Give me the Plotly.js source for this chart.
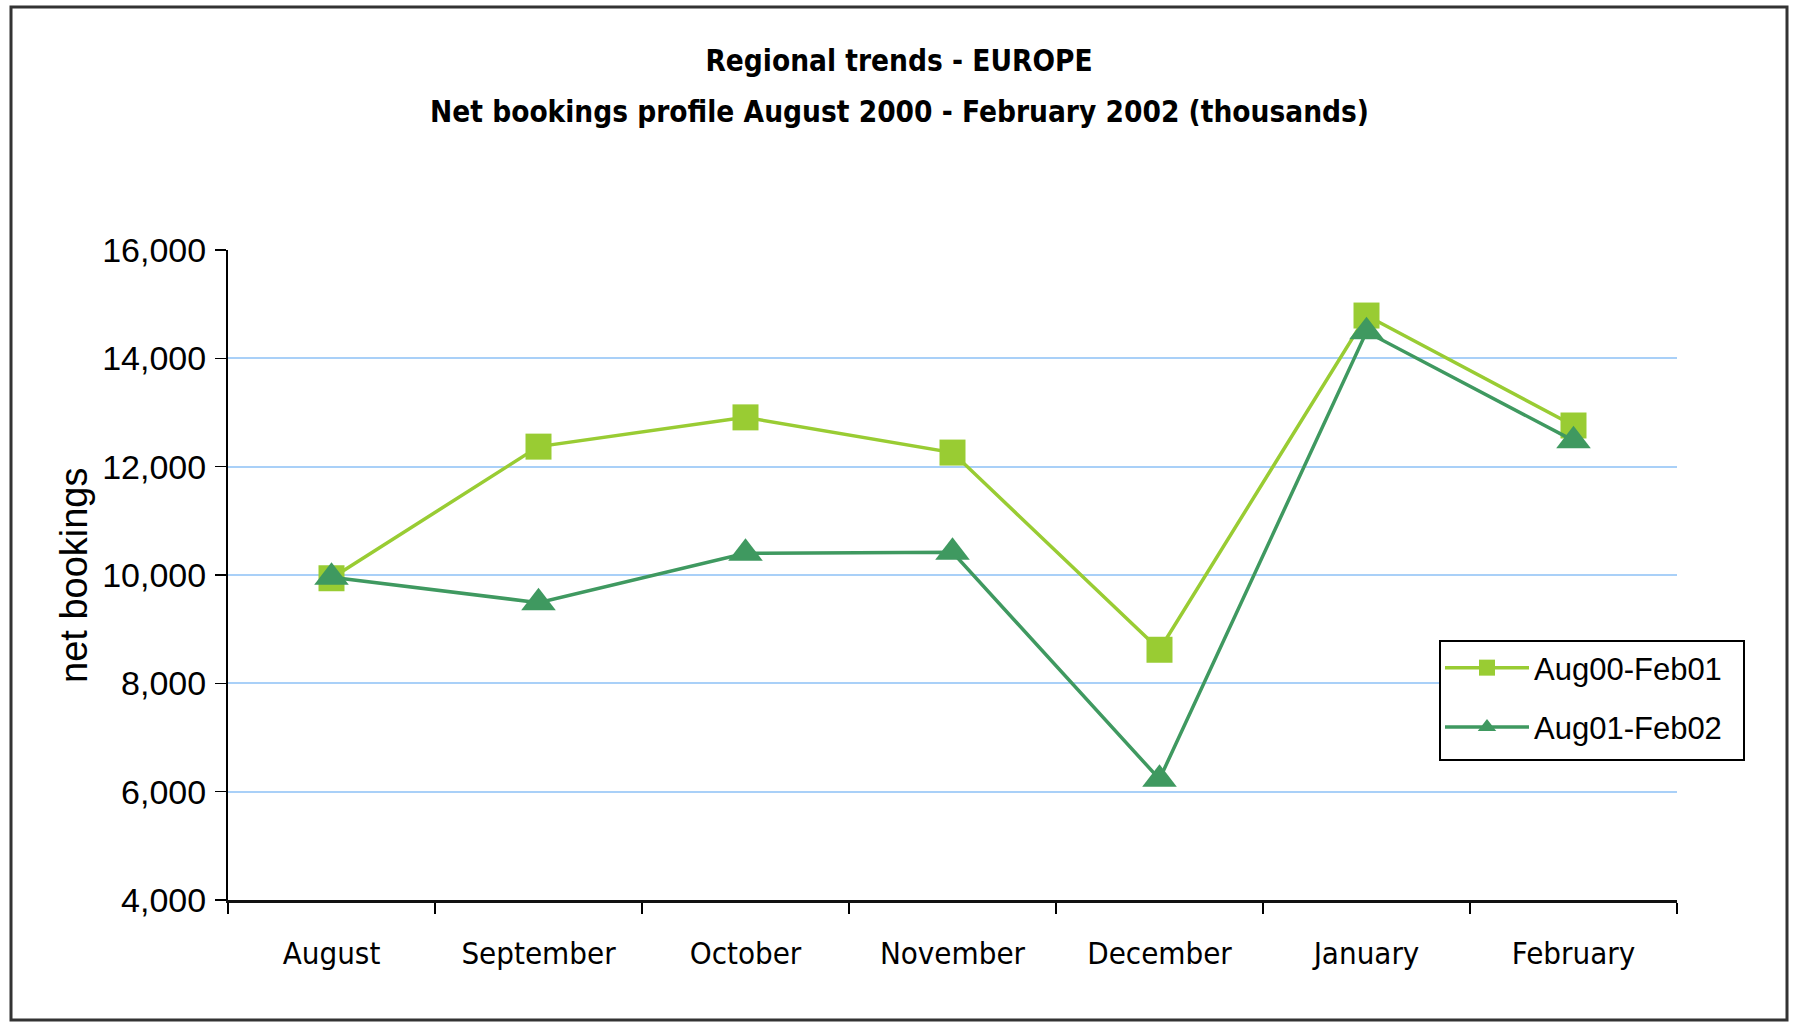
<!DOCTYPE html>
<html>
<head>
<meta charset="utf-8">
<script src="https://cdn.plot.ly/plotly-3.0.1.min.js"></script>
<style>
  html, body { margin: 0; padding: 0; background: #ffffff; }
  #chart { width: 1795px; height: 1022px; }
</style>
</head>
<body>
<div id="chart"></div>
<script>
// ---- data ----
var months = ['August', 'September', 'October', 'November', 'December', 'January', 'February'];
var seriesNames = ['Aug00-Feb01', 'Aug01-Feb02'];
var aug00Feb01 = [9940, 12370, 12910, 12260, 8620, 14790, 12760];
var aug01Feb02 = [9960, 9490, 10400, 10420, 6230, 14490, 12480];
var yTickVals = [4000, 6000, 8000, 10000, 12000, 14000, 16000];
var titleLine1 = 'Regional trends - EUROPE';
var titleLine2 = 'Net bookings profile August 2000 - February 2002 (thousands)';
var yAxisTitle = 'net bookings';

// ---- styling ----
var narrow = '"Liberation Sans Narrow", "Arial Narrow", "DejaVu Sans Condensed", sans-serif';
var sans = '"Liberation Sans", Arial, sans-serif';
var lightGreen = '#99CC33';
var darkGreen = '#3F9960';

var boundaries = months.map(function (_, i) { return i - 0.5; }).concat([months.length - 0.5]);

var traces = [
  {
    type: 'scatter', mode: 'lines+markers',
    x: months, y: aug00Feb01, name: seriesNames[0],
    line: { color: lightGreen, width: 3.5 },
    marker: { symbol: 'square', size: 26, color: lightGreen, line: { width: 0 } },
    legendgroup: 'a'
  },
  {
    type: 'scatter', mode: 'lines+markers',
    x: months, y: aug01Feb02, name: seriesNames[1],
    line: { color: darkGreen, width: 3.5 },
    marker: { symbol: 'triangle-up', size: 30, color: darkGreen, line: { width: 0 } },
    legendgroup: 'b'
  }
];

var W = 1795, H = 1022;
var L = 228, R = 118, T = 250, B = 122;
var pw = W - L - R, ph = H - T - B;
function px2x(p) { return (p - L) / pw; }
function py2y(p) { return (H - B - p) / ph; }

var layout = {
  width: W, height: H,
  margin: { l: L, r: R, t: T, b: B, pad: 0, autoexpand: false },
  paper_bgcolor: '#ffffff', plot_bgcolor: '#ffffff',
  showlegend: true,
  title: {
    text: titleLine1,
    font: { family: narrow, size: 29.5, color: '#000000', weight: 'bold' },
    x: 899 / W, xref: 'container', xanchor: 'center',
    y: 1 - 61 / H, yref: 'container', yanchor: 'middle'
  },
  xaxis: {
    type: 'category', categoryorder: 'array', categoryarray: months,
    range: [-0.5, months.length - 0.5],
    tickson: 'boundaries', ticks: 'outside', ticklen: 11, tickwidth: 1.5, tickcolor: '#000000',
    showline: true, linecolor: '#111111', linewidth: 3,
    showgrid: false, zeroline: false, tickangle: 0, automargin: false,
    ticklabelstandoff: 24,
    tickfont: { family: narrow, size: 31, color: '#000000' }
  },
  yaxis: {
    range: [4000, 16000], tickmode: 'array', tickvals: yTickVals,
    tickformat: ',d', automargin: false,
    ticks: 'outside', ticklen: 11, tickwidth: 1.5, tickcolor: '#000000',
    showline: true, linecolor: '#000000', linewidth: 2,
    showgrid: true, gridcolor: '#A9D0F8', gridwidth: 2,
    zeroline: false,
    ticklabelstandoff: 2,
    tickfont: { family: sans, size: 34, color: '#000000' }
  },
  xaxis2: {
    overlaying: 'x', anchor: 'y', side: 'bottom', type: 'linear',
    range: [-0.5, months.length - 0.5],
    tickmode: 'array', tickvals: boundaries,
    ticks: 'inside', ticklen: 11, tickwidth: 1.5, tickcolor: '#000000',
    showticklabels: false, showgrid: false, showline: false, zeroline: false
  },
  yaxis2: {
    overlaying: 'y', anchor: 'x', side: 'left',
    range: [4000, 16000], tickmode: 'array', tickvals: yTickVals,
    ticks: 'inside', ticklen: 11, tickwidth: 1.5, tickcolor: '#000000',
    showticklabels: false, showgrid: false, showline: false, zeroline: false
  },
  legend: {
    xref: 'paper', yref: 'paper',
    x: px2x(1440), y: py2y(641), xanchor: 'left', yanchor: 'top',
    bgcolor: 'rgba(0,0,0,0)', borderwidth: 0,
    font: { family: sans, size: 31, color: '#000000' },
    traceorder: 'grouped', tracegroupgap: 16,
    itemwidth: 84
  },
  annotations: [
    {
      text: titleLine2, showarrow: false,
      xref: 'paper', yref: 'paper',
      x: px2x(899), y: py2y(112), xanchor: 'center', yanchor: 'middle',
      font: { family: narrow, size: 29.5, color: '#000000', weight: 'bold' }
    },
    {
      text: yAxisTitle, showarrow: false, textangle: -90,
      xref: 'paper', yref: 'paper',
      x: px2x(74), y: py2y(575), xanchor: 'center', yanchor: 'middle',
      font: { family: sans, size: 38, color: '#000000' }
    }
  ],
  shapes: [
    {
      type: 'rect', xref: 'paper', yref: 'paper',
      x0: px2x(11), x1: px2x(1787), y0: py2y(1020), y1: py2y(7),
      line: { color: '#333333', width: 3 }, fillcolor: 'rgba(0,0,0,0)', layer: 'above'
    },
    {
      type: 'rect', xref: 'paper', yref: 'paper',
      x0: px2x(1440), x1: px2x(1744), y0: py2y(760), y1: py2y(641),
      line: { color: '#000000', width: 2 }, fillcolor: '#ffffff', layer: 'above'
    }
  ]
};

Plotly.newPlot('chart', traces, layout, { displayModeBar: false, staticPlot: true });
</script>
</body>
</html>
